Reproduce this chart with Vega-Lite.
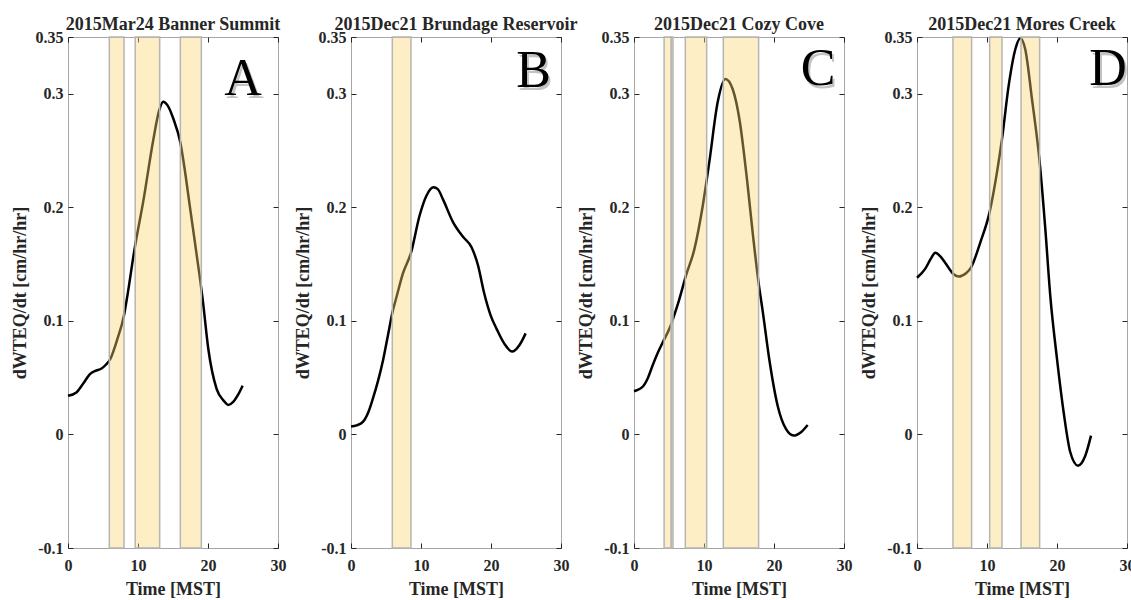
{
  "$schema": "https://vega.github.io/schema/vega-lite/v6.json",
  "background": "white",
  "padding": {"left": 10, "top": 15, "right": 0, "bottom": 0},
  "spacing": 73,
  "bounds": "flush",
  "datasets": {
    "curves": [
      {"panel": "A", "t": 0, "v": 0.034}, {"panel": "A", "t": 1.2, "v": 0.037}, {"panel": "A", "t": 2.2, "v": 0.045}, {"panel": "A", "t": 3.1, "v": 0.053}, {"panel": "A", "t": 3.9, "v": 0.056}, {"panel": "A", "t": 4.8, "v": 0.058}, {"panel": "A", "t": 5.5, "v": 0.062}, {"panel": "A", "t": 6.0, "v": 0.066}, {"panel": "A", "t": 7.0, "v": 0.083}, {"panel": "A", "t": 8.0, "v": 0.105}, {"panel": "A", "t": 8.4, "v": 0.119}, {"panel": "A", "t": 9.5, "v": 0.163}, {"panel": "A", "t": 10.8, "v": 0.207}, {"panel": "A", "t": 12.2, "v": 0.26}, {"panel": "A", "t": 13.05, "v": 0.286}, {"panel": "A", "t": 13.6, "v": 0.293}, {"panel": "A", "t": 14.2, "v": 0.29}, {"panel": "A", "t": 15.05, "v": 0.278}, {"panel": "A", "t": 16.05, "v": 0.257}, {"panel": "A", "t": 16.8, "v": 0.228}, {"panel": "A", "t": 17.4, "v": 0.201}, {"panel": "A", "t": 18.86, "v": 0.137}, {"panel": "A", "t": 19.24, "v": 0.119}, {"panel": "A", "t": 20.05, "v": 0.075}, {"panel": "A", "t": 21.24, "v": 0.04}, {"panel": "A", "t": 22.2, "v": 0.03}, {"panel": "A", "t": 22.9, "v": 0.026}, {"panel": "A", "t": 23.6, "v": 0.0286}, {"panel": "A", "t": 24.3, "v": 0.035}, {"panel": "A", "t": 24.95, "v": 0.043},
      {"panel": "B", "t": 0, "v": 0.007}, {"panel": "B", "t": 0.8, "v": 0.008}, {"panel": "B", "t": 1.7, "v": 0.011}, {"panel": "B", "t": 2.5, "v": 0.02}, {"panel": "B", "t": 3.1, "v": 0.031}, {"panel": "B", "t": 3.9, "v": 0.048}, {"panel": "B", "t": 4.6, "v": 0.066}, {"panel": "B", "t": 5.3, "v": 0.088}, {"panel": "B", "t": 5.9, "v": 0.107}, {"panel": "B", "t": 6.5, "v": 0.121}, {"panel": "B", "t": 7.43, "v": 0.142}, {"panel": "B", "t": 8.57, "v": 0.16}, {"panel": "B", "t": 9.81, "v": 0.193}, {"panel": "B", "t": 10.76, "v": 0.21}, {"panel": "B", "t": 11.8, "v": 0.2176}, {"panel": "B", "t": 12.4, "v": 0.216}, {"panel": "B", "t": 13.14, "v": 0.207}, {"panel": "B", "t": 14.57, "v": 0.187}, {"panel": "B", "t": 16.0, "v": 0.174}, {"panel": "B", "t": 17.2, "v": 0.165}, {"panel": "B", "t": 18.14, "v": 0.149}, {"panel": "B", "t": 19.0, "v": 0.125}, {"panel": "B", "t": 20.0, "v": 0.104}, {"panel": "B", "t": 20.8, "v": 0.093}, {"panel": "B", "t": 21.9, "v": 0.08}, {"panel": "B", "t": 23.0, "v": 0.073}, {"panel": "B", "t": 24.1, "v": 0.079}, {"panel": "B", "t": 24.95, "v": 0.089},
      {"panel": "C", "t": 0, "v": 0.038}, {"panel": "C", "t": 1.24, "v": 0.042}, {"panel": "C", "t": 2.0, "v": 0.05}, {"panel": "C", "t": 2.67, "v": 0.061}, {"panel": "C", "t": 3.4, "v": 0.072}, {"panel": "C", "t": 4.1, "v": 0.081}, {"panel": "C", "t": 5.05, "v": 0.093}, {"panel": "C", "t": 5.8, "v": 0.106}, {"panel": "C", "t": 6.47, "v": 0.119}, {"panel": "C", "t": 7.43, "v": 0.14}, {"panel": "C", "t": 8.62, "v": 0.163}, {"panel": "C", "t": 9.81, "v": 0.201}, {"panel": "C", "t": 10.76, "v": 0.24}, {"panel": "C", "t": 11.95, "v": 0.2925}, {"panel": "C", "t": 13.05, "v": 0.313}, {"panel": "C", "t": 14.1, "v": 0.304}, {"panel": "C", "t": 15.05, "v": 0.278}, {"panel": "C", "t": 16.24, "v": 0.219}, {"panel": "C", "t": 17.0, "v": 0.175}, {"panel": "C", "t": 17.81, "v": 0.133}, {"panel": "C", "t": 18.4, "v": 0.108}, {"panel": "C", "t": 19.33, "v": 0.066}, {"panel": "C", "t": 20.52, "v": 0.0253}, {"panel": "C", "t": 21.71, "v": 0.0048}, {"panel": "C", "t": 22.81, "v": -0.001}, {"panel": "C", "t": 23.86, "v": 0.002}, {"panel": "C", "t": 24.81, "v": 0.0083},
      {"panel": "D", "t": 0, "v": 0.138}, {"panel": "D", "t": 1.19, "v": 0.146}, {"panel": "D", "t": 2.0, "v": 0.155}, {"panel": "D", "t": 2.62, "v": 0.16}, {"panel": "D", "t": 3.3, "v": 0.157}, {"panel": "D", "t": 4.05, "v": 0.151}, {"panel": "D", "t": 5.24, "v": 0.141}, {"panel": "D", "t": 6.0, "v": 0.139}, {"panel": "D", "t": 6.43, "v": 0.1398}, {"panel": "D", "t": 7.0, "v": 0.142}, {"panel": "D", "t": 7.71, "v": 0.147}, {"panel": "D", "t": 9.04, "v": 0.169}, {"panel": "D", "t": 10.38, "v": 0.196}, {"panel": "D", "t": 11.43, "v": 0.231}, {"panel": "D", "t": 12.14, "v": 0.26}, {"panel": "D", "t": 13.09, "v": 0.307}, {"panel": "D", "t": 14.04, "v": 0.339}, {"panel": "D", "t": 14.76, "v": 0.349}, {"panel": "D", "t": 15.47, "v": 0.339}, {"panel": "D", "t": 16.43, "v": 0.295}, {"panel": "D", "t": 17.52, "v": 0.24}, {"panel": "D", "t": 18.33, "v": 0.181}, {"panel": "D", "t": 19.04, "v": 0.122}, {"panel": "D", "t": 20.0, "v": 0.0665}, {"panel": "D", "t": 20.95, "v": 0.0195}, {"panel": "D", "t": 21.9, "v": -0.0157}, {"panel": "D", "t": 23.0, "v": -0.0275}, {"panel": "D", "t": 24.04, "v": -0.0187}, {"panel": "D", "t": 24.86, "v": -0.001}
    ],
    "bands": [
      {"panel": "A", "start": 5.9, "end": 8.0}, {"panel": "A", "start": 9.6, "end": 13.1}, {"panel": "A", "start": 16.05, "end": 19.05},
      {"panel": "B", "start": 5.9, "end": 8.57},
      {"panel": "C", "start": 4.3, "end": 5.33}, {"panel": "C", "start": 5.33, "end": 5.57}, {"panel": "C", "start": 7.33, "end": 10.38}, {"panel": "C", "start": 12.76, "end": 17.8},
      {"panel": "D", "start": 5.14, "end": 7.8}, {"panel": "D", "start": 10.38, "end": 12.14}, {"panel": "D", "start": 14.86, "end": 17.52}
    ],
    "letters": [
      {"panel": "A", "letter": "A", "x": 25.0, "y": 0.313},
      {"panel": "B", "letter": "B", "x": 26.1, "y": 0.32},
      {"panel": "C", "letter": "C", "x": 26.3, "y": 0.322},
      {"panel": "D", "letter": "D", "x": 27.3, "y": 0.322}
    ]
  },
  "hconcat": [
    {
      "title": "2015Mar24 Banner Summit",
      "width": 210, "height": 511,
      "resolve": {"axis": {"x": "independent", "y": "independent"}},
      "layer": [
        {"data": {"name": "curves"}, "transform": [{"filter": "datum.panel === 'A'"}],
         "mark": {"type": "line", "color": "black", "strokeWidth": 2.5, "interpolate": "monotone"},
         "encoding": {
           "x": {"field": "t", "type": "quantitative", "scale": {"domain": [0, 30], "nice": false, "zero": false}, "axis": {"orient": "bottom", "values": [0, 10, 20, 30], "title": "Time [MST]"}},
           "y": {"field": "v", "type": "quantitative", "scale": {"domain": [-0.1, 0.35], "nice": false, "zero": false}, "axis": {"orient": "left", "values": [-0.1, 0, 0.1, 0.2, 0.3, 0.35], "labelExpr": "replace(format(datum.value, '.2~f'), '\u2212', '-')", "title": "dWTEQ/dt [cm/hr/hr]"}}}},
        {"data": {"name": "bands"}, "transform": [{"filter": "datum.panel === 'A'"}],
         "mark": {"type": "rect", "fill": "#F9D56E", "fillOpacity": 0.4, "stroke": "#b5b5b5", "strokeWidth": 1.5},
         "encoding": {
           "x": {"field": "start", "type": "quantitative", "scale": {"domain": [0, 30], "nice": false, "zero": false}, "axis": null},
           "x2": {"field": "end"},
           "y": {"datum": 0.35, "type": "quantitative", "scale": {"domain": [-0.1, 0.35], "nice": false, "zero": false}, "axis": null},
           "y2": {"datum": -0.1}}},
        {"data": {"name": "letters"}, "transform": [{"filter": "datum.panel === 'A'"}],
         "mark": {"type": "text", "font": "Liberation Serif", "fontSize": 52, "color": "#888888", "opacity": 0.5, "dx": 2, "dy": 3, "align": "center", "baseline": "middle"},
         "encoding": {
           "x": {"field": "x", "type": "quantitative", "scale": {"domain": [0, 30], "nice": false, "zero": false}, "axis": null},
           "y": {"field": "y", "type": "quantitative", "scale": {"domain": [-0.1, 0.35], "nice": false, "zero": false}, "axis": null},
           "text": {"field": "letter"}}},
        {"data": {"name": "letters"}, "transform": [{"filter": "datum.panel === 'A'"}],
         "mark": {"type": "text", "font": "Liberation Serif", "fontSize": 52, "color": "black", "align": "center", "baseline": "middle"},
         "encoding": {
           "x": {"field": "x", "type": "quantitative", "scale": {"domain": [0, 30], "nice": false, "zero": false}, "axis": {"orient": "top", "values": [0, 10, 20, 30], "labels": false, "title": null}},
           "y": {"field": "y", "type": "quantitative", "scale": {"domain": [-0.1, 0.35], "nice": false, "zero": false}, "axis": {"orient": "right", "values": [-0.1, 0, 0.1, 0.2, 0.3, 0.35], "labels": false, "title": null}},
           "text": {"field": "letter"}}}
      ]
    },
    {
      "title": "2015Dec21 Brundage Reservoir",
      "width": 210, "height": 511,
      "resolve": {"axis": {"x": "independent", "y": "independent"}},
      "layer": [
        {"data": {"name": "curves"}, "transform": [{"filter": "datum.panel === 'B'"}],
         "mark": {"type": "line", "color": "black", "strokeWidth": 2.5, "interpolate": "monotone"},
         "encoding": {
           "x": {"field": "t", "type": "quantitative", "scale": {"domain": [0, 30], "nice": false, "zero": false}, "axis": {"orient": "bottom", "values": [0, 10, 20, 30], "title": "Time [MST]"}},
           "y": {"field": "v", "type": "quantitative", "scale": {"domain": [-0.1, 0.35], "nice": false, "zero": false}, "axis": {"orient": "left", "values": [-0.1, 0, 0.1, 0.2, 0.3, 0.35], "labelExpr": "replace(format(datum.value, '.2~f'), '\u2212', '-')", "title": "dWTEQ/dt [cm/hr/hr]"}}}},
        {"data": {"name": "bands"}, "transform": [{"filter": "datum.panel === 'B'"}],
         "mark": {"type": "rect", "fill": "#F9D56E", "fillOpacity": 0.4, "stroke": "#b5b5b5", "strokeWidth": 1.5},
         "encoding": {
           "x": {"field": "start", "type": "quantitative", "scale": {"domain": [0, 30], "nice": false, "zero": false}, "axis": null},
           "x2": {"field": "end"},
           "y": {"datum": 0.35, "type": "quantitative", "scale": {"domain": [-0.1, 0.35], "nice": false, "zero": false}, "axis": null},
           "y2": {"datum": -0.1}}},
        {"data": {"name": "letters"}, "transform": [{"filter": "datum.panel === 'B'"}],
         "mark": {"type": "text", "font": "Liberation Serif", "fontSize": 52, "color": "#888888", "opacity": 0.5, "dx": 2, "dy": 3, "align": "center", "baseline": "middle"},
         "encoding": {
           "x": {"field": "x", "type": "quantitative", "scale": {"domain": [0, 30], "nice": false, "zero": false}, "axis": null},
           "y": {"field": "y", "type": "quantitative", "scale": {"domain": [-0.1, 0.35], "nice": false, "zero": false}, "axis": null},
           "text": {"field": "letter"}}},
        {"data": {"name": "letters"}, "transform": [{"filter": "datum.panel === 'B'"}],
         "mark": {"type": "text", "font": "Liberation Serif", "fontSize": 52, "color": "black", "align": "center", "baseline": "middle"},
         "encoding": {
           "x": {"field": "x", "type": "quantitative", "scale": {"domain": [0, 30], "nice": false, "zero": false}, "axis": {"orient": "top", "values": [0, 10, 20, 30], "labels": false, "title": null}},
           "y": {"field": "y", "type": "quantitative", "scale": {"domain": [-0.1, 0.35], "nice": false, "zero": false}, "axis": {"orient": "right", "values": [-0.1, 0, 0.1, 0.2, 0.3, 0.35], "labels": false, "title": null}},
           "text": {"field": "letter"}}}
      ]
    },
    {
      "title": "2015Dec21 Cozy Cove",
      "width": 210, "height": 511,
      "resolve": {"axis": {"x": "independent", "y": "independent"}},
      "layer": [
        {"data": {"name": "curves"}, "transform": [{"filter": "datum.panel === 'C'"}],
         "mark": {"type": "line", "color": "black", "strokeWidth": 2.5, "interpolate": "monotone"},
         "encoding": {
           "x": {"field": "t", "type": "quantitative", "scale": {"domain": [0, 30], "nice": false, "zero": false}, "axis": {"orient": "bottom", "values": [0, 10, 20, 30], "title": "Time [MST]"}},
           "y": {"field": "v", "type": "quantitative", "scale": {"domain": [-0.1, 0.35], "nice": false, "zero": false}, "axis": {"orient": "left", "values": [-0.1, 0, 0.1, 0.2, 0.3, 0.35], "labelExpr": "replace(format(datum.value, '.2~f'), '\u2212', '-')", "title": "dWTEQ/dt [cm/hr/hr]"}}}},
        {"data": {"name": "bands"}, "transform": [{"filter": "datum.panel === 'C'"}],
         "mark": {"type": "rect", "fill": "#F9D56E", "fillOpacity": 0.4, "stroke": "#b5b5b5", "strokeWidth": 1.5},
         "encoding": {
           "x": {"field": "start", "type": "quantitative", "scale": {"domain": [0, 30], "nice": false, "zero": false}, "axis": null},
           "x2": {"field": "end"},
           "y": {"datum": 0.35, "type": "quantitative", "scale": {"domain": [-0.1, 0.35], "nice": false, "zero": false}, "axis": null},
           "y2": {"datum": -0.1}}},
        {"data": {"name": "letters"}, "transform": [{"filter": "datum.panel === 'C'"}],
         "mark": {"type": "text", "font": "Liberation Serif", "fontSize": 52, "color": "#888888", "opacity": 0.5, "dx": 2, "dy": 3, "align": "center", "baseline": "middle"},
         "encoding": {
           "x": {"field": "x", "type": "quantitative", "scale": {"domain": [0, 30], "nice": false, "zero": false}, "axis": null},
           "y": {"field": "y", "type": "quantitative", "scale": {"domain": [-0.1, 0.35], "nice": false, "zero": false}, "axis": null},
           "text": {"field": "letter"}}},
        {"data": {"name": "letters"}, "transform": [{"filter": "datum.panel === 'C'"}],
         "mark": {"type": "text", "font": "Liberation Serif", "fontSize": 52, "color": "black", "align": "center", "baseline": "middle"},
         "encoding": {
           "x": {"field": "x", "type": "quantitative", "scale": {"domain": [0, 30], "nice": false, "zero": false}, "axis": {"orient": "top", "values": [0, 10, 20, 30], "labels": false, "title": null}},
           "y": {"field": "y", "type": "quantitative", "scale": {"domain": [-0.1, 0.35], "nice": false, "zero": false}, "axis": {"orient": "right", "values": [-0.1, 0, 0.1, 0.2, 0.3, 0.35], "labels": false, "title": null}},
           "text": {"field": "letter"}}}
      ]
    },
    {
      "title": "2015Dec21 Mores Creek",
      "width": 210, "height": 511,
      "resolve": {"axis": {"x": "independent", "y": "independent"}},
      "layer": [
        {"data": {"name": "curves"}, "transform": [{"filter": "datum.panel === 'D'"}],
         "mark": {"type": "line", "color": "black", "strokeWidth": 2.5, "interpolate": "monotone"},
         "encoding": {
           "x": {"field": "t", "type": "quantitative", "scale": {"domain": [0, 30], "nice": false, "zero": false}, "axis": {"orient": "bottom", "values": [0, 10, 20, 30], "title": "Time [MST]"}},
           "y": {"field": "v", "type": "quantitative", "scale": {"domain": [-0.1, 0.35], "nice": false, "zero": false}, "axis": {"orient": "left", "values": [-0.1, 0, 0.1, 0.2, 0.3, 0.35], "labelExpr": "replace(format(datum.value, '.2~f'), '\u2212', '-')", "title": "dWTEQ/dt [cm/hr/hr]"}}}},
        {"data": {"name": "bands"}, "transform": [{"filter": "datum.panel === 'D'"}],
         "mark": {"type": "rect", "fill": "#F9D56E", "fillOpacity": 0.4, "stroke": "#b5b5b5", "strokeWidth": 1.5},
         "encoding": {
           "x": {"field": "start", "type": "quantitative", "scale": {"domain": [0, 30], "nice": false, "zero": false}, "axis": null},
           "x2": {"field": "end"},
           "y": {"datum": 0.35, "type": "quantitative", "scale": {"domain": [-0.1, 0.35], "nice": false, "zero": false}, "axis": null},
           "y2": {"datum": -0.1}}},
        {"data": {"name": "letters"}, "transform": [{"filter": "datum.panel === 'D'"}],
         "mark": {"type": "text", "font": "Liberation Serif", "fontSize": 52, "color": "#888888", "opacity": 0.5, "dx": 2, "dy": 3, "align": "center", "baseline": "middle"},
         "encoding": {
           "x": {"field": "x", "type": "quantitative", "scale": {"domain": [0, 30], "nice": false, "zero": false}, "axis": null},
           "y": {"field": "y", "type": "quantitative", "scale": {"domain": [-0.1, 0.35], "nice": false, "zero": false}, "axis": null},
           "text": {"field": "letter"}}},
        {"data": {"name": "letters"}, "transform": [{"filter": "datum.panel === 'D'"}],
         "mark": {"type": "text", "font": "Liberation Serif", "fontSize": 52, "color": "black", "align": "center", "baseline": "middle"},
         "encoding": {
           "x": {"field": "x", "type": "quantitative", "scale": {"domain": [0, 30], "nice": false, "zero": false}, "axis": {"orient": "top", "values": [0, 10, 20, 30], "labels": false, "title": null}},
           "y": {"field": "y", "type": "quantitative", "scale": {"domain": [-0.1, 0.35], "nice": false, "zero": false}, "axis": {"orient": "right", "values": [-0.1, 0, 0.1, 0.2, 0.3, 0.35], "labels": false, "title": null}},
           "text": {"field": "letter"}}}
      ]
    }
  ],
  "config": {
    "view": {"stroke": "#a6a6a6", "strokeWidth": 1},
    "title": {"font": "Liberation Serif", "fontSize": 18, "fontWeight": "bold", "color": "#262626", "anchor": "middle", "offset": -5},
    "axis": {
      "grid": false, "domain": false,
      "tickSize": -5, "tickColor": "#262626", "tickWidth": 1,
      "labelFont": "Liberation Serif", "labelFontSize": 16, "labelFontWeight": "bold", "labelColor": "#262626", "labelFlush": false, "labelPadding": 4, "labelOverlap": false,
      "titleFont": "Liberation Serif", "titleFontSize": 18, "titleFontWeight": "bold", "titleColor": "#262626", "titlePadding": 3
    },
    "axisBottom": {"labelPadding": 14, "titlePadding": 7},
    "axisLeft": {"labelPadding": 10, "titlePadding": 6}
  }
}
